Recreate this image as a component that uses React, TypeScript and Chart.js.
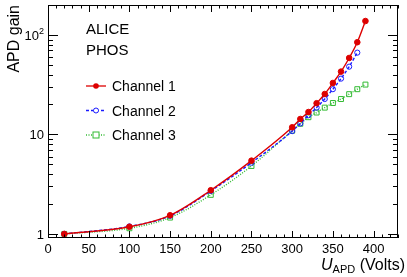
import React, { useEffect, useRef } from 'react';
import { Chart, registerables } from 'chart.js';

Chart.register(...registerables);

const voltages1 = [20, 100, 150, 200, 250, 300, 310, 320, 330, 340, 350, 360, 370, 380, 390];
const channel1 = [1.0, 1.18, 1.54, 2.75, 5.45, 11.8, 14.3, 16.8, 20.6, 25.5, 32.9, 42.8, 58.7, 84.5, 138];
const voltages2 = [20, 100, 150, 200, 250, 300, 310, 320, 330, 340, 350, 360, 370, 380];
const channel2 = [1.0, 1.19, 1.52, 2.7, 5.2, 10.8, 12.9, 15.6, 18.6, 22.7, 28.5, 36.4, 48, 66.4];
const voltages3 = [20, 100, 150, 200, 250, 300, 310, 320, 330, 340, 350, 360, 370, 380, 390];
const channel3 = [1.0, 1.14, 1.46, 2.47, 4.82, 10.9, 12.8, 14.9, 16.6, 18.6, 20.7, 22.7, 25.4, 28.5, 31.7];

const xMajorTicks = [0, 50, 100, 150, 200, 250, 300, 350, 400];
const yMajorTicks = [1, 10, 100];
const seriesNames = ['Channel 1', 'Channel 2', 'Channel 3'];
const headerLines = ['ALICE', 'PHOS'];

const RED = '#dd0000';
const BLUE = '#1a1aff';
const GREEN = '#33bb33';
const FONT = '"Liberation Sans", Arial, Helvetica, sans-serif';

const X_MIN = 0;
const X_MAX = 430;
const Y_MIN = 0.91;
const Y_MAX = 200;

const rootPlugin = {
  id: 'rootStyle',
  afterDraw(chart: any) {
    const ctx = chart.ctx as CanvasRenderingContext2D;
    const { left, right, top, bottom } = chart.chartArea;
    const xs = chart.scales.x;
    const ys = chart.scales.y;
    ctx.save();
    ctx.strokeStyle = '#000';
    ctx.lineWidth = 1;
    // frame
    ctx.strokeRect(Math.round(left) + 0.5, Math.round(top) + 0.5, Math.round(right - left) - 1, Math.round(bottom - top) - 1);

    // x ticks
    ctx.beginPath();
    for (let v = 0; v <= X_MAX; v += 10) {
      const px = Math.round(xs.getPixelForValue(v)) + 0.5;
      const major = v % 50 === 0;
      const len = major ? 7 : 3.5;
      ctx.moveTo(px, bottom);
      ctx.lineTo(px, bottom - len);
      ctx.moveTo(px, top);
      ctx.lineTo(px, top + len);
    }
    // y ticks
    for (let dec = 1; dec <= 100; dec *= 10) {
      for (let m = 1; m <= 9; m++) {
        const v = m * dec;
        if (v < Y_MIN || v > Y_MAX) continue;
        const py = Math.round(ys.getPixelForValue(v)) + 0.5;
        const len = m === 1 ? 10 : 5;
        ctx.moveTo(left, py);
        ctx.lineTo(left + len, py);
        ctx.moveTo(right, py);
        ctx.lineTo(right - len, py);
      }
    }
    ctx.stroke();

    // x tick labels
    ctx.fillStyle = '#000';
    ctx.font = `13px ${FONT}`;
    ctx.textAlign = 'center';
    ctx.textBaseline = 'alphabetic';
    xMajorTicks.forEach((v) => {
      ctx.fillText(String(v), xs.getPixelForValue(v), bottom + 15);
    });

    // y tick labels
    ctx.textAlign = 'right';
    yMajorTicks.forEach((v) => {
      const py = ys.getPixelForValue(v);
      const lx = left - 4;
      if (v === 100) {
        ctx.font = `9px ${FONT}`;
        const sw = ctx.measureText('2').width;
        ctx.fillText('2', lx, py - 1);
        ctx.font = `13px ${FONT}`;
        ctx.fillText('10', lx - sw, py + 5);
      } else {
        ctx.font = `13px ${FONT}`;
        ctx.fillText(String(v), lx, py + 5);
      }
    });

    // y title
    ctx.save();
    ctx.translate(18.5, top);
    ctx.rotate(-Math.PI / 2);
    ctx.font = `16px ${FONT}`;
    ctx.textAlign = 'right';
    ctx.fillText('APD gain', 0, 0);
    ctx.restore();

    // x title
    ctx.textAlign = 'left';
    const endX = 405;
    const baseY = 270;
    ctx.font = `16px ${FONT}`;
    const volts = ' (Volts)';
    const wV = ctx.measureText(volts).width;
    ctx.font = `11px ${FONT}`;
    const wS = ctx.measureText('APD').width;
    ctx.font = `italic 16px ${FONT}`;
    const wU = ctx.measureText('U').width;
    let cx = endX - wV - wS - wU;
    ctx.fillText('U', cx, baseY);
    cx += wU;
    ctx.font = `11px ${FONT}`;
    ctx.fillText('APD', cx, baseY + 3);
    cx += wS;
    ctx.font = `16px ${FONT}`;
    ctx.fillText(volts, cx, baseY);

    // header text
    ctx.font = `15px ${FONT}`;
    ctx.fillText(headerLines[0], 86, 34);
    ctx.fillText(headerLines[1], 86, 55);

    // legend
    const rows = [86, 110.5, 135];
    const colors = [RED, BLUE, GREEN];
    const dashes = [[], [3, 2], [1, 1.5]];
    rows.forEach((ry, i) => {
      ctx.save();
      ctx.strokeStyle = colors[i];
      ctx.lineWidth = 1.3;
      ctx.setLineDash(dashes[i]);
      ctx.beginPath();
      ctx.moveTo(86, ry);
      ctx.lineTo(106, ry);
      ctx.stroke();
      ctx.setLineDash([]);
      ctx.lineWidth = 1;
      if (i === 0) {
        ctx.fillStyle = RED;
        ctx.beginPath();
        ctx.arc(96, ry, 2.8, 0, Math.PI * 2);
        ctx.fill();
      } else if (i === 1) {
        ctx.fillStyle = '#fff';
        ctx.beginPath();
        ctx.arc(96, ry, 2.5, 0, Math.PI * 2);
        ctx.fill();
        ctx.stroke();
      } else {
        ctx.fillStyle = '#fff';
        ctx.fillRect(93, ry - 3, 6, 6);
        ctx.strokeRect(93, ry - 3, 6, 6);
      }
      ctx.restore();
      ctx.fillStyle = '#000';
      ctx.font = `14px ${FONT}`;
      ctx.fillText(seriesNames[i], 112, ry + 5);
    });
    ctx.restore();
  },
};

export default function App() {
  const ref = useRef<HTMLCanvasElement | null>(null);
  useEffect(() => {
    if (!ref.current) return;
    const toPts = (xs: number[], ys: number[]) => xs.map((x, i) => ({ x, y: ys[i] }));
    const chart = new Chart(ref.current, {
      type: 'line',
      data: {
        datasets: [
          {
            label: seriesNames[0],
            data: toPts(voltages1, channel1),
            borderColor: RED,
            backgroundColor: RED,
            borderWidth: 1.4,
            pointStyle: 'circle',
            pointRadius: 2.8,
            pointBorderWidth: 1,
            pointBackgroundColor: RED,
            pointBorderColor: RED,
            cubicInterpolationMode: 'monotone',
          },
          {
            label: seriesNames[1],
            data: toPts(voltages2, channel2),
            borderColor: BLUE,
            borderWidth: 1.4,
            borderDash: [3, 2],
            pointStyle: 'circle',
            pointRadius: 2.6,
            pointBorderWidth: 1,
            pointBackgroundColor: 'rgba(0,0,0,0)',
            pointBorderColor: BLUE,
            cubicInterpolationMode: 'monotone',
          },
          {
            label: seriesNames[2],
            data: toPts(voltages3, channel3),
            borderColor: GREEN,
            borderWidth: 1.4,
            borderDash: [1, 1.5],
            pointStyle: 'rect',
            pointRadius: 3.5,
            pointBorderWidth: 1,
            pointBackgroundColor: 'rgba(0,0,0,0)',
            pointBorderColor: GREEN,
            cubicInterpolationMode: 'monotone',
          },
        ],
      },
      options: {
        animation: false,
        responsive: false,
        maintainAspectRatio: false,
        layout: { padding: { left: 48, right: 9, top: 5, bottom: 39 } },
        plugins: { legend: { display: false }, tooltip: { enabled: false } },
        scales: {
          x: { type: 'linear', min: X_MIN, max: X_MAX, display: false },
          y: { type: 'logarithmic', min: Y_MIN, max: Y_MAX, display: false },
        },
      },
      plugins: [rootPlugin],
    } as any);
    return () => chart.destroy();
  }, []);
  return (
    <div style={{ position: 'fixed', left: 0, top: 0, width: 407, height: 277, background: '#fff' }}>
      <canvas ref={ref} width={407} height={277} style={{ width: 407, height: 277 }} />
    </div>
  );
}
